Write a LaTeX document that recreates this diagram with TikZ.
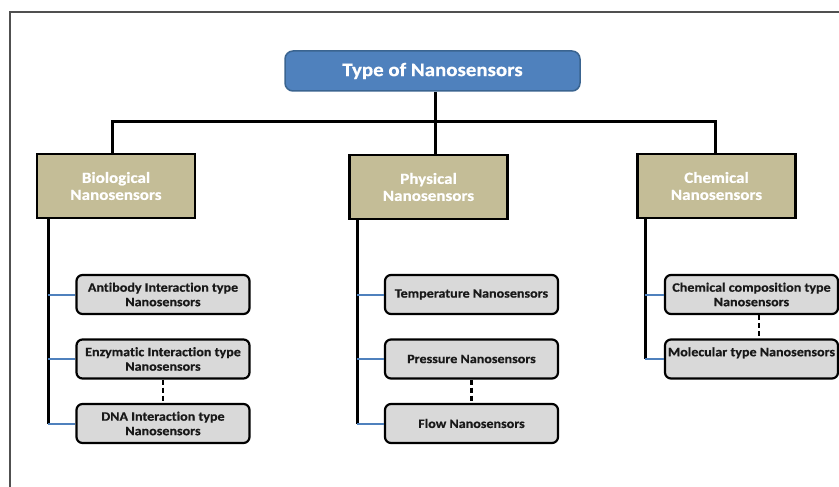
\documentclass[tikz,border=0pt]{standalone}
\usepackage{fontspec}
\setmainfont{Carlito}[FakeStretch=1.1,Ligatures=NoCommon,BoldFeatures={FakeBold=0.6}]
\definecolor{titleblue}{HTML}{4F81BD}
\definecolor{titleedge}{HTML}{3A6490}
\definecolor{tan}{HTML}{C4BD97}
\definecolor{childgray}{HTML}{D9D9D9}
\definecolor{framegray}{HTML}{505050}
\begin{document}
\begin{tikzpicture}[x=1pt,y=-1pt,
  titlebox/.style={draw=titleedge,line width=1.5pt,fill=titleblue,rounded corners=8pt,
    minimum width=295pt,minimum height=40pt,inner sep=0pt,text=white,
    font=\bfseries\fontsize{19}{22}\selectfont},
  parentbox/.style={draw=black,line width=2.6pt,fill=tan,minimum width=158pt,minimum height=64pt,
    inner sep=0pt,text=white,align=center,font=\bfseries\fontsize{15.5}{17}\selectfont},
  childbox/.style={draw=black,line width=2.2pt,fill=childgray,rounded corners=6pt,
    minimum width=173pt,minimum height=39pt,inner sep=0pt,align=center,text=black!90,
    font=\bfseries\fontsize{12.8}{14.5}\selectfont},
  trunk/.style={draw=black,line width=3pt},
  stub/.style={draw=titleblue,line width=2pt},
  dashlink/.style={draw=black,line width=2.6pt,dash pattern=on 5pt off 3pt}]
\useasboundingbox (0,0) rectangle (839,487);
\draw[framegray,line width=1.4pt] (10,490) -- (10,12) -- (842,12);

\node[titlebox] (top) at (432.5,71) {Type of Nanosensors};
\node[parentbox] (bio) at (116,186) {Biological\\Nanosensors};
\node[parentbox] (phys) at (428.5,187) {Physical\\Nanosensors};
\node[parentbox] (chem) at (716.5,186) {Chemical\\Nanosensors};

\node[childbox] (ab) at (163,294.5) {Antibody Interaction type\\Nanosensors};
\node[childbox] (enz) at (163,359) {Enzymatic Interaction type\\Nanosensors};
\node[childbox] (dna) at (163,423.5) {DNA Interaction type\\Nanosensors};

\node[childbox] (temp) at (471.5,294.5) {Temperature Nanosensors};
\node[childbox] (pres) at (471.5,359) {Pressure Nanosensors};
\node[childbox] (flow) at (471.5,423.5) {Flow Nanosensors};

\node[childbox] (comp) at (751.5,294.5) {Chemical composition type\\Nanosensors};
\node[childbox] (mol) at (751.5,359) {Molecular type Nanosensors\\\mbox{}};

\coordinate (bus) at (0,122);
\coordinate (bt) at (48,0);
\coordinate (pt) at (357,0);
\coordinate (ct) at (645,0);

\draw[trunk] ([xshift=2.5pt]top.south) -- ([xshift=2.5pt]top.south |- phys.north);
\draw[trunk] ([xshift=-4pt]bio.north) |- ([xshift=-1.5pt]chem.north |- bus) -- ([xshift=-1.5pt]chem.north);

\draw[trunk] (bio.south -| bt) -- (dna.west -| bt);
\draw[trunk] (phys.south -| pt) -- (flow.west -| pt);
\draw[trunk] (chem.south -| ct) -- (mol.west -| ct);

\draw[stub] (ab.west) -- (ab.west -| bt);
\draw[stub] (enz.west) -- (enz.west -| bt);
\draw[stub] (dna.west) -- (dna.west -| bt);
\draw[stub] (temp.west) -- (temp.west -| pt);
\draw[stub] (pres.west) -- (pres.west -| pt);
\draw[stub] (flow.west) -- (flow.west -| pt);
\draw[stub] (comp.west) -- (comp.west -| ct);
\draw[stub] (mol.west) -- (mol.west -| ct);

\draw[dashlink] (enz.south) -- (dna.north);
\draw[dashlink] (pres.south) -- (flow.north);
\draw[dashlink] ([xshift=7.5pt]comp.south) -- ([xshift=7.5pt]mol.north);
\end{tikzpicture}
\end{document}
